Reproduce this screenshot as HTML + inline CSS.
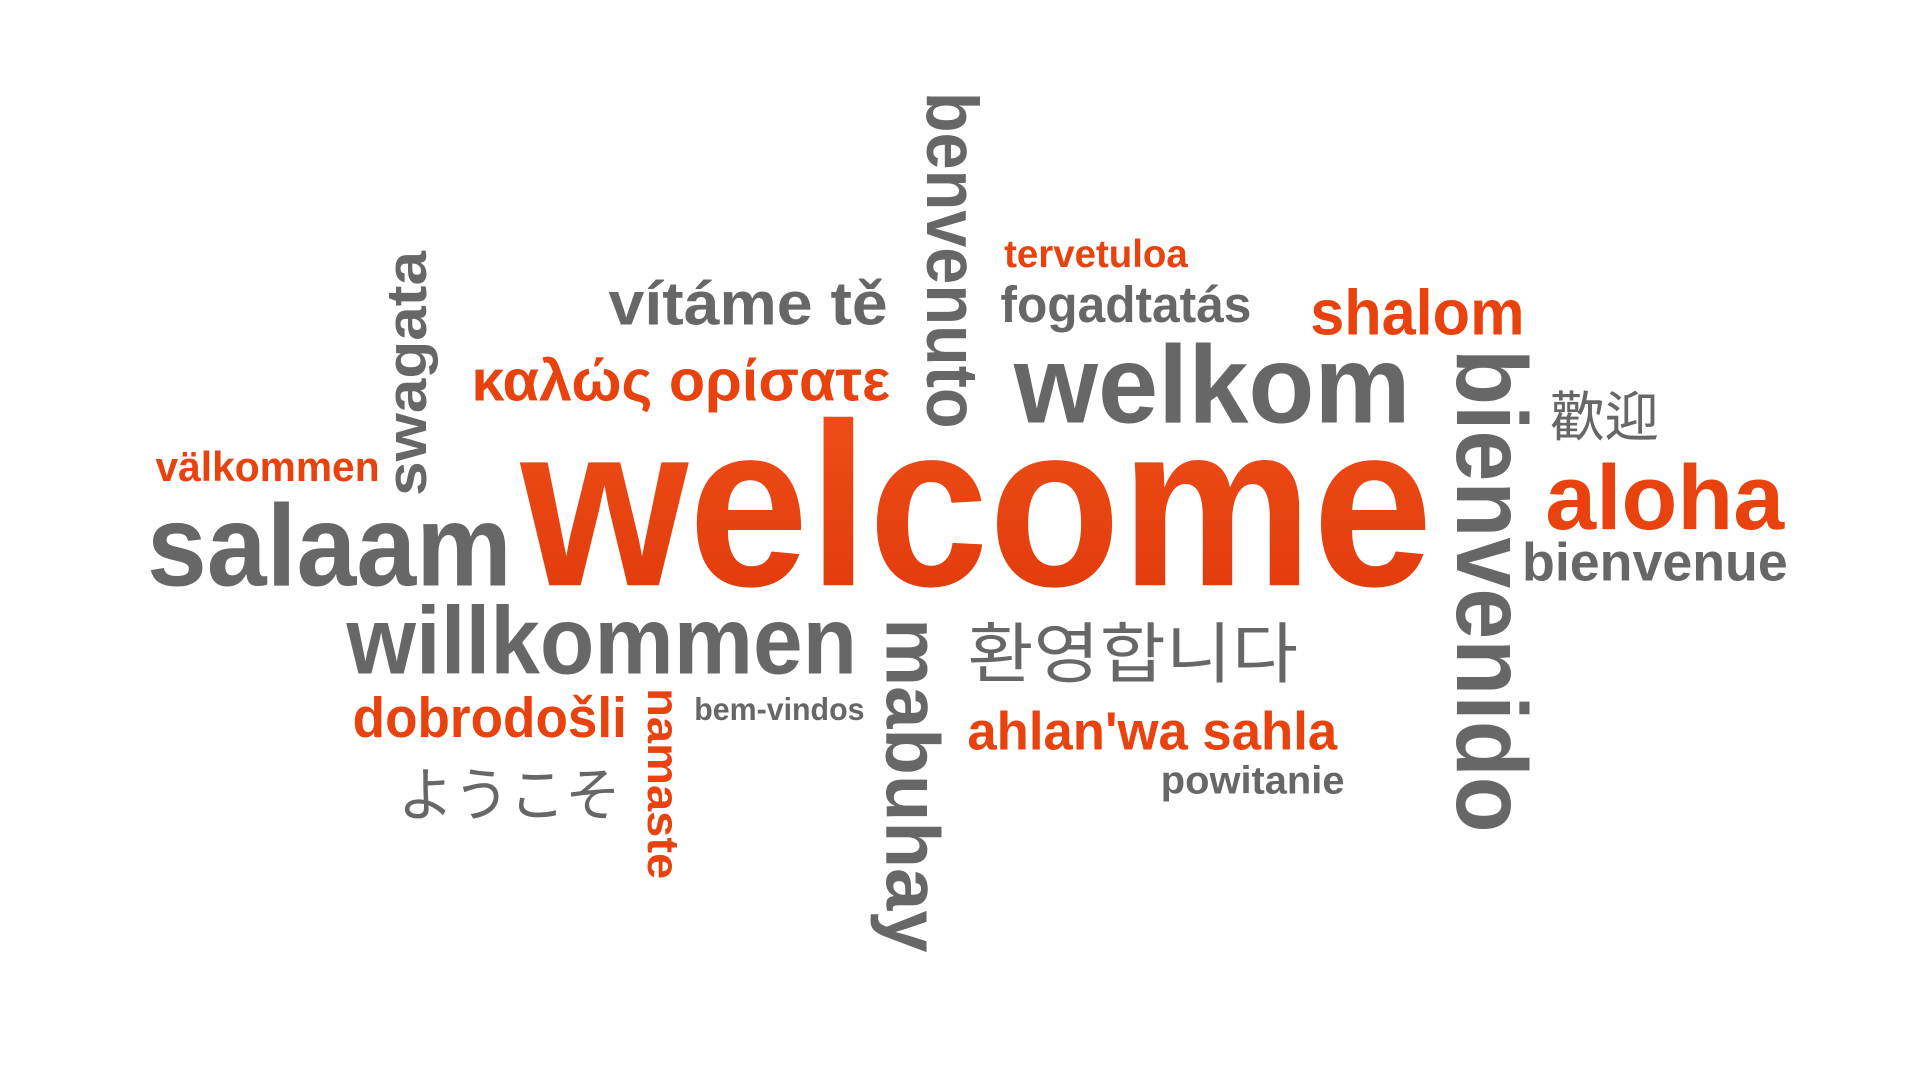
<!DOCTYPE html>
<html>
<head>
<meta charset="utf-8">
<style>
html,body{margin:0;padding:0;background:#fff;width:1920px;height:1080px;overflow:hidden}
svg{display:block}
text{font-family:"Liberation Sans","Noto Sans CJK JP",sans-serif;font-weight:bold}
.o{fill:#e8420e}
.g{fill:#676767}
.cjk{font-weight:normal;font-family:"Liberation Sans","Noto Sans CJK KR","Noto Sans CJK JP",sans-serif}
</style>
</head>
<body>
<svg width="1920" height="1080" viewBox="0 0 1568 882" xmlns="http://www.w3.org/2000/svg">
<defs>
<linearGradient id="wg" x1="0" y1="0" x2="0" y2="1">
<stop offset="0" stop-color="#f0501a"/>
<stop offset="1" stop-color="#e0380a"/>
</linearGradient>
</defs>
<text x="425" y="478" font-size="190" fill="url(#wg)" textLength="745" lengthAdjust="spacingAndGlyphs">welcome</text>
<text class="g" x="120" y="478" font-size="95" textLength="298" lengthAdjust="spacingAndGlyphs">salaam</text>
<text class="g" x="283" y="550" font-size="78" textLength="417" lengthAdjust="spacingAndGlyphs">willkommen</text>
<text class="o" x="127" y="393" font-size="34" textLength="183" lengthAdjust="spacingAndGlyphs">välkommen</text>
<text class="g" transform="translate(348,405) rotate(-90)" font-size="46" textLength="200" lengthAdjust="spacingAndGlyphs">swagata</text>
<text class="g" x="497" y="265" font-size="50" textLength="228" lengthAdjust="spacingAndGlyphs">vítáme tě</text>
<text class="o" x="385" y="327" font-size="48" textLength="342" lengthAdjust="spacingAndGlyphs">καλώς ορίσατε</text>
<text class="g" transform="translate(757,75) rotate(90)" font-size="60" textLength="275" lengthAdjust="spacingAndGlyphs">benvenuto</text>
<text class="o" x="820" y="218" font-size="32" textLength="150" lengthAdjust="spacingAndGlyphs">tervetuloa</text>
<text class="g" x="817" y="263" font-size="42" textLength="205" lengthAdjust="spacingAndGlyphs">fogadtatás</text>
<text class="o" x="1070" y="273" font-size="52" textLength="175" lengthAdjust="spacingAndGlyphs">shalom</text>
<text class="g" x="828" y="345" font-size="90" textLength="324" lengthAdjust="spacingAndGlyphs">welkom</text>
<text class="g" transform="translate(1190,285) rotate(90)" font-size="82" textLength="395" lengthAdjust="spacingAndGlyphs">bienvenido</text>
<text class="g cjk" x="1266" y="356" font-size="44" textLength="89" lengthAdjust="spacingAndGlyphs">歡迎</text>
<text class="o" x="1262" y="432" font-size="75" textLength="195" lengthAdjust="spacingAndGlyphs">aloha</text>
<text class="g" x="1243" y="474" font-size="44" textLength="217" lengthAdjust="spacingAndGlyphs">bienvenue</text>
<text class="g cjk" x="790" y="553" font-size="54" textLength="270" lengthAdjust="spacingAndGlyphs">환영합니다</text>
<text class="g" transform="translate(724,505) rotate(90)" font-size="62" textLength="273" lengthAdjust="spacingAndGlyphs">mabuhay</text>
<text class="o" x="288" y="602" font-size="46" textLength="224" lengthAdjust="spacingAndGlyphs">dobrodošli</text>
<text class="o" transform="translate(529,562) rotate(90)" font-size="36" textLength="156" lengthAdjust="spacingAndGlyphs">namaste</text>
<text class="g" x="567" y="588" font-size="26" textLength="139" lengthAdjust="spacingAndGlyphs">bem-vindos</text>
<text class="g cjk" x="325" y="666" font-size="48" textLength="182" lengthAdjust="spacingAndGlyphs">ようこそ</text>
<text class="o" x="790" y="612" font-size="44" textLength="302" lengthAdjust="spacingAndGlyphs">ahlan'wa sahla</text>
<text class="g" x="948" y="648" font-size="32" textLength="150" lengthAdjust="spacingAndGlyphs">powitanie</text>
</svg>
</body>
</html>
